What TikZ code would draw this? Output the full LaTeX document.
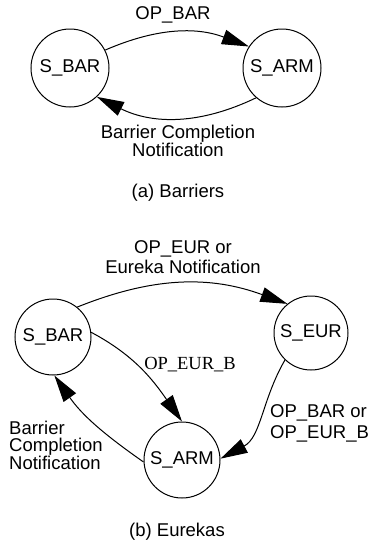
\documentclass[tikz,border=0pt]{standalone}
\usepackage{fontspec}
\setmainfont{Liberation Sans}
\newfontfamily\myserif{Liberation Serif}
\usetikzlibrary{arrows.meta}
\begin{document}
\begin{tikzpicture}[x=1pt,y=-1pt,
  state/.style={circle, draw, line width=1pt, minimum size=76pt, inner sep=0pt,
    font=\fontsize{18.5}{18.5}\selectfont},
  edge/.style={draw, line width=1pt, -{Triangle[length=27pt,width=15pt]}},
  txt/.style={inner sep=0pt, font=\fontsize{18.5}{#1}\selectfont},
  txt/.default=18.5]
\useasboundingbox (0,0) rectangle (368,542);
% (a) Barriers
\node[state, minimum size=78pt] (abar) at (70,68) {S\_BAR};
\node[state, minimum size=78pt] (aarm) at (282,68) {S\_ARM};
\draw[edge] (abar.27) to[bend left=22] (aarm.147);
\draw[edge] (aarm.229) to[bend left=26] (abar.313);
\node[txt] (lopbar) at (173,15) {OP\_BAR};
\node[txt=18, align=center] (lbcn) at (178,141) {Barrier Completion\\Notification};
\node[txt] (capa) at (178,193) {(a) Barriers};
% (b) Eurekas
\node[state] (bbar) at (53,337) {S\_BAR};
\node[state, minimum size=74pt] (beur) at (311,333) {S\_EUR};
\node[state] (barm) at (182,460) {S\_ARM};
\draw[edge] (bbar.51) to[bend left=21] (beur.129);
\draw[edge] (bbar.7) to[out=-28,in=125] (barm.90);
\draw[edge] (barm.183) to[out=145,in=-55] (bbar.272);
\draw[edge] (beur.226) to[out=240,in=28] (barm.2);
\node[txt=20, align=center] (leur) at (183,257) {OP\_EUR or\\Eureka Notification};
\node[inner sep=0pt, font={\myserif\fontsize{18.5}{18.5}\selectfont}] (leurb) at (190,365) {OP\_EUR\_B};
\node[txt=17.5, align=left, anchor=west] (lbcn2) at (9,445) {Barrier\\Completion\\Notification};
\node[txt=21, align=left, anchor=west] (lbaror) at (270,423) {OP\_BAR or\\OP\_EUR\_B};
\node[txt] (capb) at (177,532) {(b) Eurekas};
\end{tikzpicture}
\end{document}
